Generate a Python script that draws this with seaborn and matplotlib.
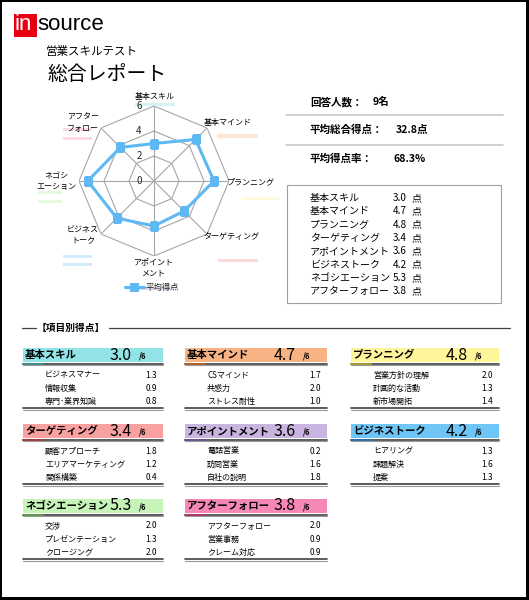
import matplotlib
matplotlib.use('Agg')
import matplotlib.pyplot as plt
import seaborn as sns
import numpy as np
import pandas as pd
from matplotlib.patches import Rectangle
from matplotlib.lines import Line2D
from matplotlib.transforms import ScaledTranslation

# ---- data ----
categories = ['基本スキル', '基本マインド', 'プランニング', 'ターゲティング',
              'アポイントメント', 'ビジネストーク', 'ネゴシエーション', 'アフターフォロー']
avg_scores = [3.0, 4.7, 4.8, 3.4, 3.6, 4.2, 5.3, 3.8]
radar_labels = ['基本スキル', '基本マインド', 'プランニング', 'ターゲティング',
                'アポイント\nメント', 'ビジネス\nトーク', 'ネゴシ\nエーション', 'アフター\nフォロー']
radar_ticks = [0, 2, 4, 6]
max_score = 6
respondents = 9
avg_total = 32.8
avg_rate = 68.3
sub_items = [
    ['ビジネスマナー', '情報収集', '専門･業界知識'],
    ['CSマインド', '共感力', 'ストレス耐性'],
    ['営業方針の理解', '計画的な活動', '新市場開拓'],
    ['顧客アプローチ', 'エリアマーケティング', '関係構築'],
    ['電話営業', '訪問営業', '自社の説明'],
    ['ヒアリング', '課題解決', '提案'],
    ['交渉', 'プレゼンテーション', 'クロージング'],
    ['アフターフォロー', '営業事務', 'クレーム対応'],
]
sub_scores = [
    [1.3, 0.9, 0.8],
    [1.7, 2.0, 1.0],
    [2.0, 1.3, 1.4],
    [1.8, 1.2, 0.4],
    [0.2, 1.6, 1.8],
    [1.3, 1.6, 1.3],
    [2.0, 1.3, 2.0],
    [2.0, 0.9, 0.9],
]
header_colors = ['#92E3E6', '#F8B385', '#FFF59B', '#F9A1A1',
                 '#C9B4DF', '#6EC5F6', '#C6F3B8', '#F688B7']
accent_colors = ['#3C8F92', '#B0602F', '#A89A30', '#A03E3E',
                 '#6D5590', '#2B73A8', '#5E9A4E', '#A83A6A']

# ---- layout helpers (pixel coords, origin top-left) ----
W, H = 529, 600
sns.set_style('white')
plt.rcParams['font.family'] = ['Noto Sans CJK JP', 'DejaVu Sans']

fig = plt.figure(figsize=(W / 100, H / 100), dpi=100, facecolor='black')


def fx(x):
    return x / W


def fy(y):
    return 1 - y / H


def txt(x, y, s, **kw):
    kw.setdefault('va', 'center')
    kw.setdefault('color', 'black')
    fig.text(fx(x), fy(y), s, **kw)


def hline(x0, x1, y, color='#404040', lw=1.0):
    fig.add_artist(Line2D([fx(x0), fx(x1)], [fy(y), fy(y)], transform=fig.transFigure,
                          color=color, lw=lw, zorder=2))


def rect(x0, y0, x1, y1, fc, ec='none', lw=0, z=-0.5):
    fig.add_artist(Rectangle((fx(x0), fy(y1)), (x1 - x0) / W, (y1 - y0) / H,
                             transform=fig.transFigure, facecolor=fc, edgecolor=ec,
                             lw=lw, zorder=z))


# page
rect(2, 2, 526, 597, 'white', z=-1)

# logo + titles
rect(14, 14, 37, 37, '#E60012')
txt(15, 25, 'in', color='white', fontsize=16, family='Liberation Sans')
txt(37, 25, 'source', fontsize=16, family='Liberation Sans')
txt(46, 52, '営業スキルテスト', fontsize=8.3)
txt(47, 74, '総合レポート', fontsize=14.3)

# pastel label highlights around the radar
highlights = [
    (135, 103, 175, 106, '#D6F4F6'), (217, 134, 258, 138, '#FCE6D6'),
    (242, 197, 280, 200, '#FFFADB'), (218, 259, 258, 262, '#FBDADA'),
    (137, 287, 173, 290, '#E3D9EE'), (63, 255, 92, 258, '#D3ECFB'),
    (63, 263, 92, 266, '#D3ECFB'), (38, 191, 62, 194, '#E3F8DC'),
    (38, 200, 62, 203, '#E3F8DC'), (63, 128, 92, 131, '#FBD9E7'),
    (63, 137, 92, 140, '#FBD9E7'),
]
for x0, y0, x1, y1, c in highlights:
    rect(x0, y0, x1, y1, c)

# ---- radar ----
cx, cy, rad = 154, 181, 75
ax = fig.add_axes([fx(cx - rad), fy(cy + rad), 2 * rad / W, 2 * rad / H], projection='polar')
ax.patch.set_alpha(0)
ax.set_theta_zero_location('N')
ax.set_theta_direction(-1)

theta = np.linspace(0, 2 * np.pi, len(categories), endpoint=False)
closed = np.append(theta, 2 * np.pi)
grid_c = '#A6A6A6'
for r in radar_ticks[1:]:
    ax.plot(closed, [r] * len(closed), color=grid_c, lw=0.8, zorder=1)
for t in theta:
    ax.plot([t, t], [0, max_score], color=grid_c, lw=0.8, zorder=1)

df = pd.DataFrame({'theta': closed, 'score': avg_scores + avg_scores[:1]})
sns.lineplot(data=df, x='theta', y='score', sort=False, ax=ax, color='#5DB8F3',
             lw=2.2, marker='s', markersize=5.5, markeredgecolor='#5DB8F3',
             label='平均得点', zorder=3)
ax.set_ylim(0, max_score)
ax.grid(False)
ax.set_xticks([])
ax.set_yticks([])
ax.set_xlabel('')
ax.set_ylabel('')
ax.spines['polar'].set_visible(False)

shift = ax.transData + ScaledTranslation(-0.15, 0, fig.dpi_scale_trans)
for r in radar_ticks:
    ax.text(0, r, str(r), transform=shift, ha='center', va='center', fontsize=7)

ax.legend(loc='center left', bbox_to_anchor=(fx(121), fy(287)), bbox_transform=fig.transFigure,
          frameon=False, fontsize=6, handlelength=2.2, borderpad=0, handletextpad=0.3)

label_pos = [(155, 96), (228, 123), (251, 182), (231, 236),
             (153, 267), (83, 235), (56, 181), (83, 123)]
for (x, y), s in zip(label_pos, radar_labels):
    txt(x, y, s, ha='center', fontsize=5.8, linespacing=1.3)

# ---- summary ----
txt(310, 102, '回答人数：', fontsize=7.6, fontweight='bold')
txt(373, 102, f'{respondents}名', fontsize=7.6, fontweight='bold')
hline(286, 503, 115, color='#C8C8C8', lw=1.2)
txt(310, 130, '平均総合得点：', fontsize=7.6, fontweight='bold')
txt(396, 130, f'{avg_total:.1f}点', fontsize=7.6, fontweight='bold')
hline(286, 503, 145, color='#C8C8C8', lw=1.2)
txt(310, 159, '平均得点率：', fontsize=7.6, fontweight='bold')
txt(393, 159, f'{avg_rate:.1f}%', fontsize=7.6, fontweight='bold')

rect(287, 185, 501, 303, 'none', ec='#A0A0A0', lw=0.8, z=1)
for i, (name, v) in enumerate(zip(categories, avg_scores)):
    y = 198 + i * 13.3
    txt(310, y, name, fontsize=7.2)
    txt(393, y, f'{v:.1f}', fontsize=7.2)
    txt(412, y, '点', fontsize=7.2)

# ---- section header ----
hline(22, 36, 328, color='#404040', lw=0.9)
txt(37, 328, '【項目別得点】', fontsize=7, fontweight='bold')
hline(109, 510, 328, color='#404040', lw=0.9)

# ---- category cards ----
col_x = [(23, 163), (185, 327), (351, 499)]
row_y = [348, 424, 499]
for k, name in enumerate(categories):
    x0, x1 = col_x[k % 3]
    top = row_y[k // 3]
    rect(x0, top, x1, top + 14, header_colors[k])
    txt(x0 + 2, top + 7, name, fontsize=7.5, fontweight='bold')
    txt(x1 - 31, top + 7, f'{avg_scores[k]:.1f}', ha='right', fontsize=11.5)
    txt(x1 - 24, top + 8, f'/{max_score}', fontsize=5.5, fontweight='bold')
    hline(x0, x1, top + 15.5, color='#404040', lw=1.2)
    hline(x0, x1, top + 17, color='#9A9A9A', lw=0.8)
    hline(x0, x0 + 20, top + 15.5, color=accent_colors[k], lw=1.4)
    for j in range(3):
        y = top + 27 + j * 13.3
        txt(x0 + 22, y, sub_items[k][j], fontsize=5.8)
        txt(x1 - 6, y, f'{sub_scores[k][j]:.1f}', ha='right', fontsize=6)
    hline(x0, x1, top + 60, color='#404040', lw=1.2)
    hline(x0, x1, top + 61.5, color='#9A9A9A', lw=0.8)

plt.savefig('out.png', dpi=100)
